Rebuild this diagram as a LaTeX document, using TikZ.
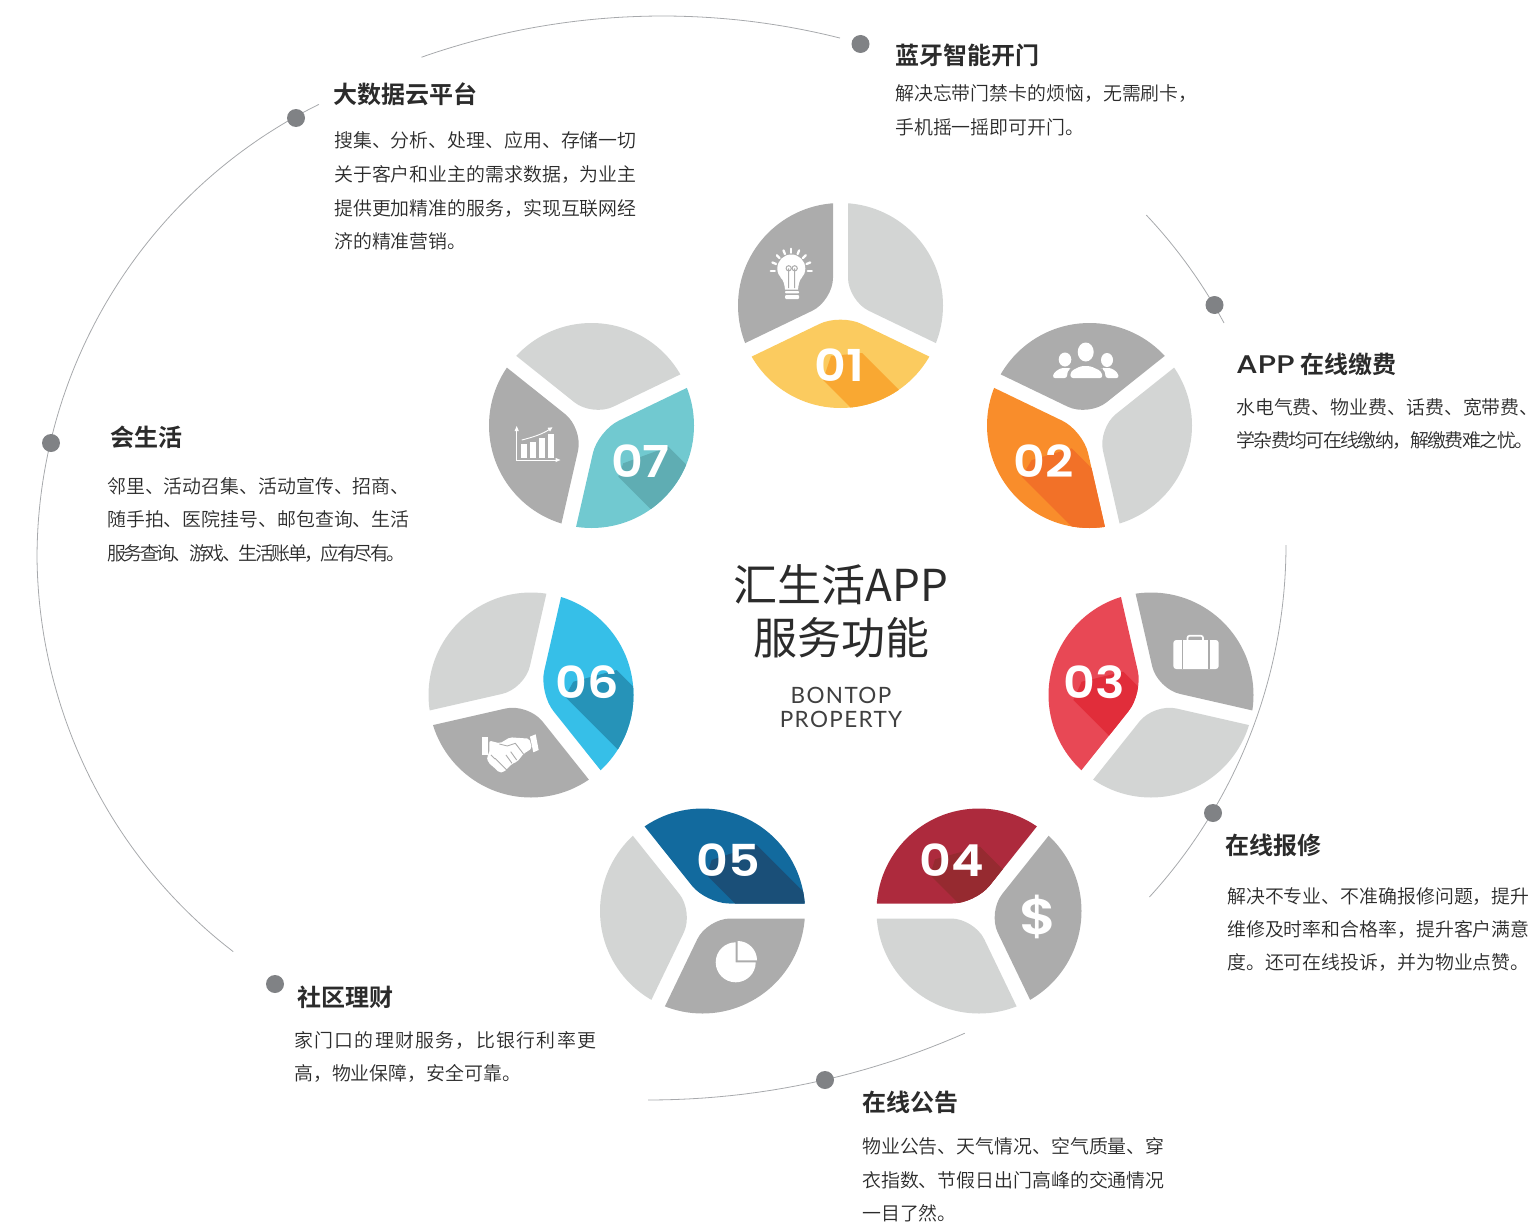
\documentclass[tikz,border=0pt]{standalone}
\usepackage{fontspec}
\usetikzlibrary{calc}
\setmainfont{Liberation Sans}
\newfontfamily\cjkbody{Noto Sans CJK SC DemiLight}
\newfontfamily\cjktitle{Noto Sans CJK SC}
\newfontfamily\cjkhead{Noto Sans CJK SC Bold}
\newfontfamily\numfont{Poppins SemiBold}
\newfontfamily\engfont[LetterSpace=6]{Lato}
\newfontfamily\latinhead{Poppins Medium}
\definecolor{graysec}{HTML}{ACACAC}
\definecolor{lightsec}{HTML}{D3D5D4}
\definecolor{arcline}{HTML}{A7A9AC}
\definecolor{dotc}{HTML}{808285}
\definecolor{txt}{HTML}{2B2B2B}
\tikzset{
  arcstyle/.style={draw=arcline,line width=0.8pt},
  dotstyle/.style={circle,fill=dotc,minimum size=18pt,inner sep=0pt},
  bodyline/.style={anchor=base west,inner sep=0pt,text=txt,font=\fontsize{18.9}{20}\selectfont\cjkbody},
  headline/.style={anchor=base west,inner sep=0pt,text=txt,font=\fontsize{24}{26}\selectfont\cjkhead},
  numlabel/.style={anchor=center,inner sep=0pt,text=white,xscale=1.12,font=\fontsize{44}{46}\selectfont\numfont},
  titleline/.style={anchor=center,inner sep=0pt,text=txt,font=\fontsize{44}{46}\selectfont\cjktitle},
  engline/.style={anchor=center,inner sep=0pt,text=txt!90,font=\fontsize{22.5}{25}\selectfont\engfont},
}
\newcommand{\piesector}[6]{%
  \begin{scope}
    \pgfmathsetmacro\secBis{(#3+#4)/2}
    \pgfmathsetmacro\secHalf{(#4-#3)/2}
    \pgfmathsetmacro\secD{7.5/sin(\secHalf)}
    \pgfmathsetmacro\secAx{#1+\secD*cos(\secBis)}
    \pgfmathsetmacro\secAy{#2-\secD*sin(\secBis)}
    \pgfmathsetmacro\secBx{\secAx+420*cos(#3)}
    \pgfmathsetmacro\secBy{\secAy-420*sin(#3)}
    \pgfmathsetmacro\secCx{\secAx+420*cos(#4)}
    \pgfmathsetmacro\secCy{\secAy-420*sin(#4)}
    \clip (#1,#2) circle (102.5pt);
    \clip[rounded corners=23pt] (\secBx,\secBy) -- (\secAx,\secAy) -- (\secCx,\secCy) -- cycle;
    \fill[#5] (#1-110,#2-110) rectangle (#1+110,#2+110);
    #6
  \end{scope}}
\newcommand{\wholepie}[8]{%
  \pgfmathsetmacro\pa{205.71-#3}\pgfmathsetmacro\pb{334.29-#3}
  \pgfmathsetmacro\pc{450-#3}\pgfmathsetmacro\pd{565.71-#3}
  \piesector{#1}{#2}{\pa}{\pb}{#4}{\fill[#5] #6 -- #7 -- #8 -- ++(300,300) -- ($#6+(300,300)$) -- cycle;}
  \piesector{#1}{#2}{\pb}{\pc}{lightsec}{}
  \piesector{#1}{#2}{\pc}{\pd}{graysec}{}}
\newcommand{\arcseg}[5]{%
  \draw[arcstyle] plot[domain=#4:#5,samples=90,smooth] ({#1+#3*cos(\x)},{#2-#3*sin(\x)});}
\newcommand{\bodyblock}[3]{%
  \foreach \yy/\ls/\lineText [count=\ii] in {#3}{%
    \node[bodyline] (#1-\ii) at (#2,\yy+7.2) {\addfontfeature{LetterSpace=\ls}\lineText};}}
\definecolor{c1}{HTML}{FBCB5F}\definecolor{s1}{HTML}{F9A832}
\definecolor{c2}{HTML}{F98D2B}\definecolor{s2}{HTML}{F27128}
\definecolor{c3}{HTML}{E84855}\definecolor{s3}{HTML}{E12D3A}
\definecolor{c4}{HTML}{AD2A3D}\definecolor{s4}{HTML}{962A30}
\definecolor{c5}{HTML}{126A9E}\definecolor{s5}{HTML}{1A4F78}
\definecolor{c6}{HTML}{36BFE8}\definecolor{s6}{HTML}{2693B8}
\definecolor{c7}{HTML}{71C9D0}\definecolor{s7}{HTML}{5FADB3}
\begin{document}
\begin{tikzpicture}[x=1pt,y=-1pt]
\useasboundingbox (0,0) rectangle (1536,1223);
% arcs
\draw[arcstyle] plot[domain=116.3:231.8,samples=90,smooth] ({543+(506-max(0,\x-180)*0.098)*cos(\x)},{558-(506-max(0,\x-180)*0.098)*sin(\x)});
\arcseg{662.6}{741.8}{725.8}{75.85}{109.4}
\draw[arcstyle] plot[domain=25.76:40.8,samples=40,smooth] ({764+(510.8-(\x-25.76)*0.385)*cos(\x)},{545-(510.8-(\x-25.76)*0.385)*sin(\x)});
\arcseg{764}{545}{522}{-42.4}{0}
\arcseg{648}{315}{785}{-90}{-66.2}
% dots
\node[dotstyle] (d1) at (860.5,44) {};
\node[dotstyle] (d2) at (1214.5,305) {};
\node[dotstyle] (d3) at (1213,813) {};
\node[dotstyle] (d4) at (825,1080) {};
\node[dotstyle] (d5) at (275,984) {};
\node[dotstyle] (d6) at (51,443) {};
\node[dotstyle] (d7) at (296,118) {};
% pies
\wholepie{840.5}{305.5}{0}{c1}{s1}{(823,380)}{(831,356)}{(862,353)}
\wholepie{1089.5}{425.5}{51.43}{c2}{s2}{(1021.7,476.7)}{(1031.7,460)}{(1071.7,448.3)}
\wholepie{1151}{695}{102.86}{c3}{s3}{(1073.3,700)}{(1081.7,681.7)}{(1123.3,671.7)}
\wholepie{979}{911}{154.29}{c4}{s4}{(930,875)}{(935,859.3)}{(980,846.7)}
\wholepie{702.5}{911}{205.71}{c5}{s5}{(706.7,875)}{(711.7,860)}{(756.7,845)}
\wholepie{531}{695}{257.14}{c6}{s6}{(565,696.7)}{(573.3,681.7)}{(616.7,670)}
\wholepie{591.5}{425.5}{308.57}{c7}{s7}{(618.3,476.7)}{(623.3,463.3)}{(668.3,446.7)}
% numbers
\node[numlabel] (n1) at (839,365.5) {01};
\node[numlabel] (n2) at (1044,461) {02};
\node[numlabel] (n3) at (1094,681.7) {03};
\node[numlabel] (n4) at (952,859.7) {04};
\node[numlabel] (n5) at (728,859.7) {05};
\node[numlabel] (n6) at (587.5,682) {06};
\node[numlabel] (n7) at (640.5,461.5) {07};
% bulb icon
\begin{scope}[white]
  \fill (791.3,268.5) circle (14pt);
  \fill (780.5,277) .. controls (784,281) and (784.5,285) .. (785,289.5) -- (798,289.5) .. controls (798.5,285) and (799,281) .. (802,277) -- cycle;
  \fill[rounded corners=0.8pt] (785,291) rectangle (799,293.3);
  \fill[rounded corners=1pt] (785,295) rectangle (799,299);
  \foreach \ang in {0,22.5,...,180}{%
    \draw[line width=2.3pt,line cap=round] ({791.3+16.5*cos(\ang)},{271-18.3*sin(\ang)}) -- ({791.3+20.5*cos(\ang)},{271-22.3*sin(\ang)});}
  \draw[graysec,line width=1pt] (788.7,288) -- (788.7,268.3) circle (2.6pt);
  \draw[graysec,line width=1pt] (794.7,288) -- (794.7,268.3) circle (2.6pt);
\end{scope}
% people icon
\begin{scope}[white]
  \fill (1085.7,352) ellipse (8pt and 9.5pt);
  \fill[rounded corners=3pt] (1070,378) -- (1071,371) -- (1081,366) -- (1090,366) -- (1101,371) -- (1103,378) -- cycle;
  \fill (1065,359.5) ellipse (6.3pt and 7pt);
  \fill[rounded corners=2.5pt] (1052.5,378) -- (1054,372.5) -- (1061,368) -- (1069,368) -- (1071,368.5) -- (1067.5,371) -- (1067,378) -- cycle;
  \fill (1107,360) ellipse (6pt and 7pt);
  \fill[rounded corners=2.5pt] (1119,378) -- (1117.5,372.5) -- (1111,368) -- (1103,368) -- (1101.5,368.5) -- (1105,371) -- (1105.5,378) -- cycle;
\end{scope}
% briefcase icon
\begin{scope}
  \draw[white,line width=1.7pt,rounded corners=2pt] (1187.5,640.5) -- (1187.5,635.8) -- (1203,635.8) -- (1203,640.5);
  \fill[white,rounded corners=3pt] (1173.3,640) rectangle (1218.7,669);
  \draw[graysec,line width=1.2pt] (1182.7,640) -- (1182.7,669);
  \draw[graysec,line width=1.2pt] (1209,640) -- (1209,669);
\end{scope}
% dollar icon
\node[anchor=center,inner sep=0pt,text=white,xscale=1.15,font=\fontsize{50}{52}\selectfont\numfont] (dollar) at (1038.3,917.3) {\$};
% pie-chart icon
\fill[white] (735.7,962.3) -- (735.7,942.3) arc[start angle=90,end angle=360,radius=20pt] -- cycle;
\fill[white] (737.7,960.3) -- (737.7,941) arc[start angle=90,end angle=0,radius=19.3pt] -- cycle;
% handshake icon
\begin{scope}[shift={(420,580)},x=0.3333pt,y=0.3333pt,yscale=-1]
  \fill[white] (185,472) -- (205,472) -- (205,526) -- (185,526) -- cycle;
  \fill[white] (330,470) -- (347,463) -- (356,510) -- (340,517) -- cycle;
  \fill[white,rounded corners=2pt] (208,482) -- (240,490) -- (270,472) -- (328,476) -- (336,505) -- (310,522) -- (292,545) -- (275,552) -- (262,566) -- (250,577) -- (238,578) -- (225,565) -- (205,548) -- (200,530) -- (208,520) -- cycle;
  \draw[graysec,line width=0.9pt] (238,492) -- (262,498) -- (286,490) -- (312,524);
  \draw[graysec,line width=0.9pt] (213,525) -- (225,537) (225,535) -- (245,555) (242,552) -- (260,570) (272,515) -- (290,540) (258,525) -- (276,550);
\end{scope}
% bar chart icon
\begin{scope}[white]
  \draw[line width=0.9pt] (516.7,429) -- (516.7,460) -- (558,460);
  \fill (516.7,426) -- (514.6,431) -- (518.8,431) -- cycle;
  \fill (560.5,460) -- (555.5,457.9) -- (555.5,462.1) -- cycle;
  \fill (521,444.3) rectangle (526.7,457.7);
  \fill (530,441.7) rectangle (535.7,457.7);
  \fill (539.3,437.7) rectangle (545,457.7);
  \fill (548.3,434.3) rectangle (554,457.7);
  \draw[line width=0.9pt] (521.7,440) .. controls (532,437.5) and (543,434) .. (550,429);
  \fill (552.5,427.3) -- (547.5,427.8) -- (550,431.5) -- cycle;
\end{scope}
% centre
\node[titleline] (tc1) at (841,585) {汇生活APP};
\node[titleline] (tc2) at (841,638) {服务功能};
\node[engline] (tc3) at (841,695) {BONTOP};
\node[engline] (tc4) at (841,719) {PROPERTY};
% headings
\node[headline] (h1) at (895,65) {蓝牙智能开门};
\node[headline] (h2) at (1236,373) {\scalebox{1.22}[1]{\fontsize{25.5}{26}\selectfont\latinhead APP} 在线缴费};
\node[headline] (h3) at (1225,854) {在线报修};
\node[headline] (h4) at (862,1111) {在线公告};
\node[headline] (h5) at (297,1006) {社区理财};
\node[headline] (h6) at (110,446) {会生活};
\node[headline] (h7) at (333,103) {大数据云平台};
% body
\bodyblock{b1}{895}{93/0/解决忘带门禁卡的烦恼，无需刷卡，,127/0/手机摇一摇即可开门。}
\bodyblock{b2}{1236}{407/0/水电气费、物业费、话费、宽带费、,440/-8/学杂费均可在线缴纳，解缴费难之忧。}
\bodyblock{b3}{1227}{896/0/解决不专业、不准确报修问题，提升,929/0/维修及时率和合格率，提升客户满意,962/0/度。还可在线投诉，并为物业点赞。}
\bodyblock{b4}{862}{1146/0/物业公告、天气情况、空气质量、穿,1180/0/衣指数、节假日出门高峰的交通情况,1213/0/一目了然。}
\bodyblock{b5}{294}{1040/7/家门口的理财服务，比银行利率更,1073/0/高，物业保障，安全可靠。}
\bodyblock{b6}{107}{486/0/邻里、活动召集、活动宣传、招商、,519/0/随手拍、医院挂号、邮包查询、生活,553/-13/服务查询、游戏、生活账单，应有尽有。}
\bodyblock{b7}{334}{140/0/搜集、分析、处理、应用、存储一切,174/0/关于客户和业主的需求数据，为业主,208/0/提供更加精准的服务，实现互联网经,241/0/济的精准营销。}
\end{tikzpicture}
\end{document}
